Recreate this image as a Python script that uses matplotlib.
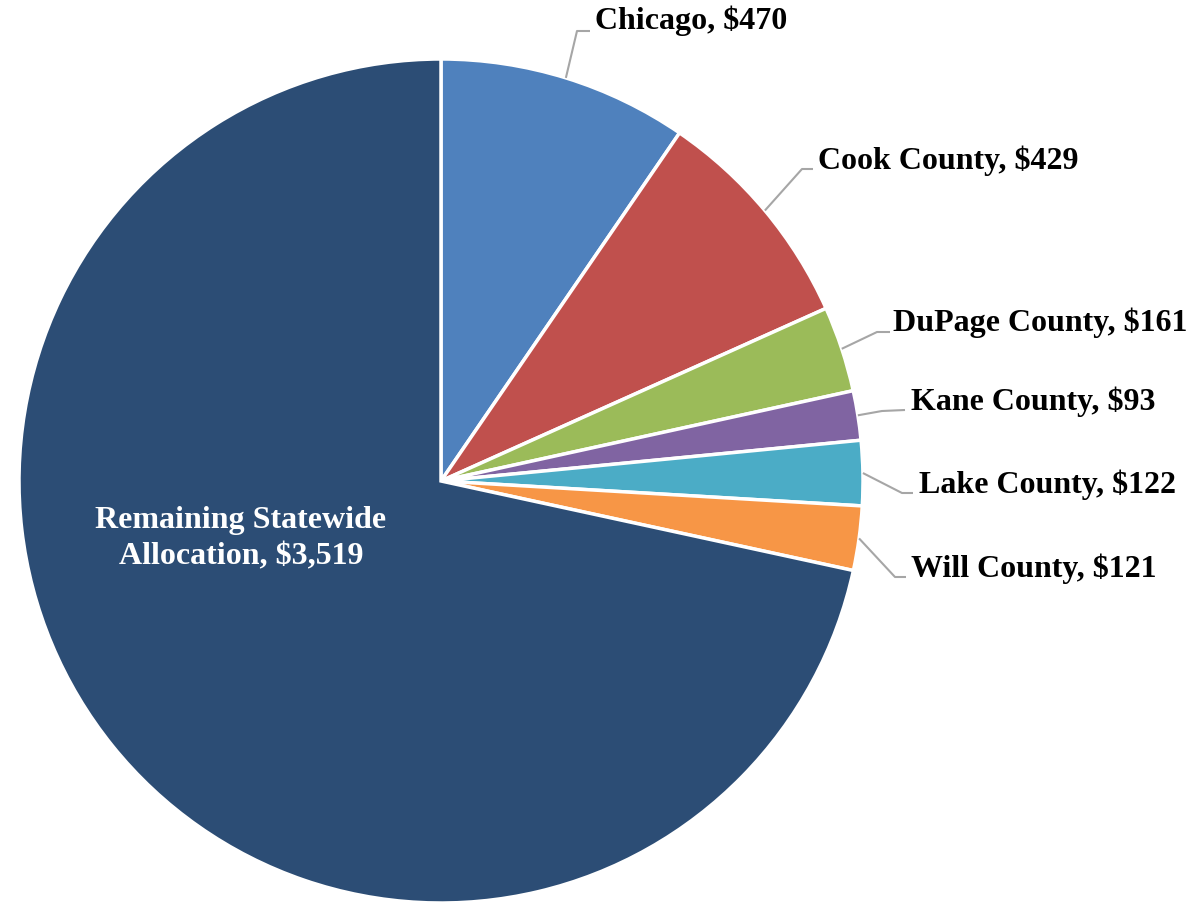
import numpy as np
import matplotlib.pyplot as plt

labels = ["Chicago", "Cook County", "DuPage County", "Kane County",
          "Lake County", "Will County", "Remaining Statewide\nAllocation"]
values = [470, 429, 161, 93, 122, 121, 3519]
colors = ["#4F81BD", "#C0504D", "#9BBB59", "#8064A2",
          "#4BACC6", "#F79646", "#2C4D75"]

# label layout in pixel coords (x, y from top): elbow point, line end, text left edge/center
elbows = [(577, 31), (802, 169), (877, 332), (882, 411), (902, 493), (895, 577)]
ends = [(590, 31), (813, 169), (890, 332), (905, 410), (913, 493), (906, 577)]
texts = [(595, 21), (818, 161), (893, 323), (911, 402), (919, 485), (911, 569)]

W, H = 1195, 902
cx, cy, r = 441, 481, 422


def to_data(p):
    return p[0], H - p[1]


def main():
    plt.rcParams['font.family'] = ['Liberation Serif', 'DejaVu Serif']
    fig = plt.figure(figsize=(W / 100, H / 100), dpi=100)
    ax = fig.add_axes([0, 0, 1, 1])
    ax.set_xlim(0, W)
    ax.set_ylim(0, H)
    ax.set_aspect('equal')
    ax.axis('off')

    wedges, _ = ax.pie(values, colors=colors, startangle=90, counterclock=False,
                       center=(cx, H - cy), radius=r,
                       wedgeprops=dict(edgecolor='white', linewidth=2.5))
    ax.set_xlim(0, W)
    ax.set_ylim(0, H)

    for i, w in enumerate(wedges[:-1]):
        ang = np.deg2rad((w.theta1 + w.theta2) / 2)
        sx = cx + r * np.cos(ang)
        sy = (H - cy) + r * np.sin(ang)
        ex, ey = to_data(elbows[i])
        fx, fy = to_data(ends[i])
        ax.plot([sx, ex, fx], [sy, ey, fy], color='#A6A6A6', lw=1.5,
                solid_capstyle='butt')
        tx, ty = to_data(texts[i])
        ax.text(tx, ty, f"{labels[i]}, ${values[i]:,}", fontsize=23,
                fontweight='bold', ha='left', va='center', color='black')

    ax.text(241, H - 539, f"{labels[-1]}, ${values[-1]:,}", fontsize=23,
            fontweight='bold', ha='center', va='center', color='white',
            linespacing=1.35)

    fig.savefig('out.png', dpi=100)


if __name__ == '__main__':
    main()
